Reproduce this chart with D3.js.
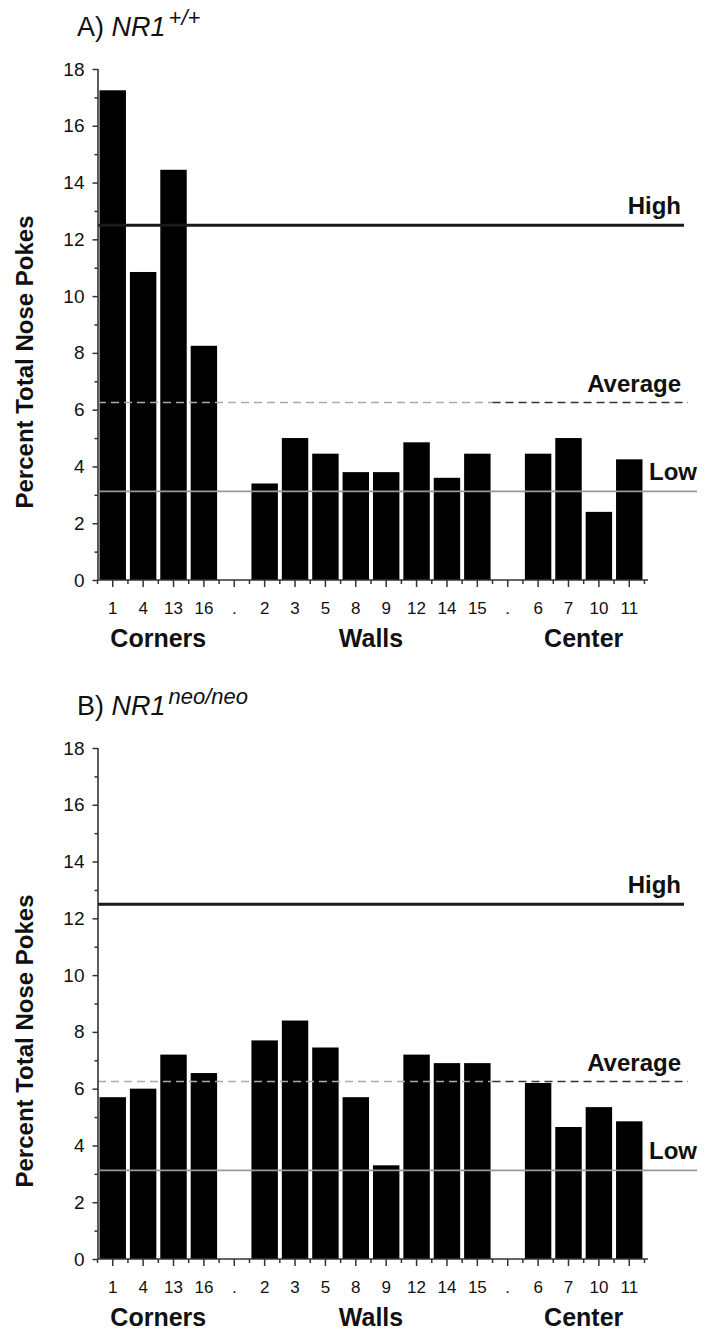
<!DOCTYPE html>
<html>
<head>
<meta charset="utf-8">
<script src="https://cdn.jsdelivr.net/npm/d3@7"></script>
<style>
  body { margin: 0; background: #fff; }
  text { font-family: "Liberation Sans", Arial, Helvetica, sans-serif; fill: #111; }
</style>
</head>
<body>
<svg id="chart" width="705" height="1330"></svg>
<script>
// well numbers along the x axis ("." = empty spacer slot)
const wells = ["1", "4", "13", "16", ".", "2", "3", "5", "8", "9", "12", "14", "15", ".", "6", "7", "10", "11"];
const groups = ["Corners", "Walls", "Center"];
const groupSlots = [[0, 3], [5, 12], [14, 17]];

// percent of total nose pokes per well
const wildType = [17.25, 10.85, 14.45, 8.25, null, 3.4, 5.0, 4.45, 3.8, 3.8, 4.85, 3.6, 4.45, null, 4.45, 5.0, 2.4, 4.25];
const neoNeo = [5.7, 6.0, 7.2, 6.55, null, 7.7, 8.4, 7.45, 5.7, 3.3, 7.2, 6.9, 6.9, null, 6.2, 4.65, 5.35, 4.85];

// reference levels
const refNames = ["High", "Average", "Low"];
const refValues = [12.5, 6.25, 3.125];

const yTicks = [0, 2, 4, 6, 8, 10, 12, 14, 16, 18];

const svg = d3.select("#chart");
const left = 98, right = 644, axisEnd = 648;

const x = d3.scaleBand()
  .domain(d3.range(wells.length))
  .range([left, right])
  .paddingInner(0.13)
  .paddingOuter(0.05);

function drawPanel(offset, values, letter, sup) {
  const g = svg.append("g").attr("transform", "translate(0," + offset + ")");
  const y = d3.scaleLinear().domain([0, 18]).range([580, 69]);

  // title
  const title = g.append("text").attr("x", 77).attr("y", 36).style("font-size", "27px");
  title.append("tspan").text(letter + ") ");
  title.append("tspan").style("font-style", "italic").text("NR1");
  title.append("tspan").style("font-style", "italic").style("font-size", "22px")
    .attr("dx", 3).attr("dy", -11).text(sup);

  // y label
  g.append("text")
    .attr("transform", "translate(33,362) rotate(-90)")
    .attr("text-anchor", "middle")
    .style("font-size", "24px").style("font-weight", "bold")
    .text("Percent Total Nose Pokes");

  // bars
  g.selectAll("rect.bar")
    .data(values.map((v, i) => ({ i: i, v: v })).filter(d => d.v != null))
    .enter().append("rect")
    .attr("class", "bar")
    .attr("x", d => x(d.i))
    .attr("width", x.bandwidth())
    .attr("y", d => y(d.v))
    .attr("height", d => y(0) - y(d.v))
    .attr("fill", "#000");

  // reference lines
  const step = x.step();
  const split = x(13) - step * x.paddingInner() / 2;
  const yH = y(refValues[0]), yA = y(refValues[1]), yL = y(refValues[2]);
  g.append("line").attr("x1", left).attr("x2", 684).attr("y1", yH).attr("y2", yH)
    .attr("stroke", "#1a1a1a").attr("stroke-width", 3);
  g.append("line").attr("x1", left).attr("x2", split).attr("y1", yA).attr("y2", yA)
    .attr("stroke", "#aaa").attr("stroke-width", 1.6).attr("stroke-dasharray", "8,5");
  g.append("line").attr("x1", split).attr("x2", 688).attr("y1", yA).attr("y2", yA)
    .attr("stroke", "#333").attr("stroke-width", 1.6).attr("stroke-dasharray", "8,5");
  g.append("line").attr("x1", left).attr("x2", 697).attr("y1", yL).attr("y2", yL)
    .attr("stroke", "#999").attr("stroke-width", 1.8);

  const refRight = [681, 681, 697];
  refNames.forEach((n, k) => {
    g.append("text")
      .attr("x", refRight[k])
      .attr("y", y(refValues[k]) - 11)
      .attr("text-anchor", "end")
      .style("font-size", "24px").style("font-weight", "bold")
      .text(n);
  });

  // y axis
  const yAxis = g.append("g").attr("transform", "translate(" + left + ",0)")
    .call(d3.axisLeft(y).tickValues(yTicks).tickSize(5.5).tickPadding(8).tickFormat(d3.format("d")));
  yAxis.selectAll("text").style("font-size", "19px").attr("fill", "#111");
  yAxis.selectAll("line, path").attr("stroke", "#333").attr("stroke-width", 1.5);
  yAxis.select(".domain").remove();
  g.append("g").attr("transform", "translate(" + left + ",0)")
    .call(d3.axisLeft(y).tickValues(d3.range(1, 18, 2)).tickSize(3.5).tickFormat(""))
    .call(a => a.select(".domain").remove())
    .selectAll("line").attr("stroke", "#333").attr("stroke-width", 1.5);
  g.append("line").attr("x1", left).attr("x2", left).attr("y1", y(18)).attr("y2", y(0))
    .attr("stroke", "#333").attr("stroke-width", 1.6);

  // x axis
  const xAxis = g.append("g").attr("transform", "translate(0," + y(0) + ")")
    .call(d3.axisBottom(x).tickSize(7).tickPadding(15).tickFormat(i => wells[i]));
  xAxis.select(".domain").remove();
  xAxis.selectAll("line").attr("stroke", "#333").attr("stroke-width", 1.5);
  xAxis.selectAll("text").style("font-size", "17px").attr("fill", "#111");
  const bounds = d3.range(wells.length + 1).map(i => left + (x.paddingOuter() - x.paddingInner() / 2) * step + i * step);
  g.selectAll("line.btick").data(bounds).enter().append("line")
    .attr("class", "btick")
    .attr("x1", d => d).attr("x2", d => d)
    .attr("y1", y(0)).attr("y2", y(0) + 4)
    .attr("stroke", "#333").attr("stroke-width", 1.5);
  g.append("line").attr("x1", left).attr("x2", axisEnd).attr("y1", y(0)).attr("y2", y(0))
    .attr("stroke", "#333").attr("stroke-width", 1.6);

  // group labels
  groups.forEach((name, k) => {
    const s = groupSlots[k];
    const cx = (x(s[0]) + x(s[1]) + x.bandwidth()) / 2;
    g.append("text")
      .attr("x", cx).attr("y", 647)
      .attr("text-anchor", "middle")
      .style("font-size", "25px").style("font-weight", "bold")
      .text(name);
  });
}

drawPanel(0, wildType, "A", "+/+");
drawPanel(679, neoNeo, "B", "neo/neo");
</script>
</body>
</html>
